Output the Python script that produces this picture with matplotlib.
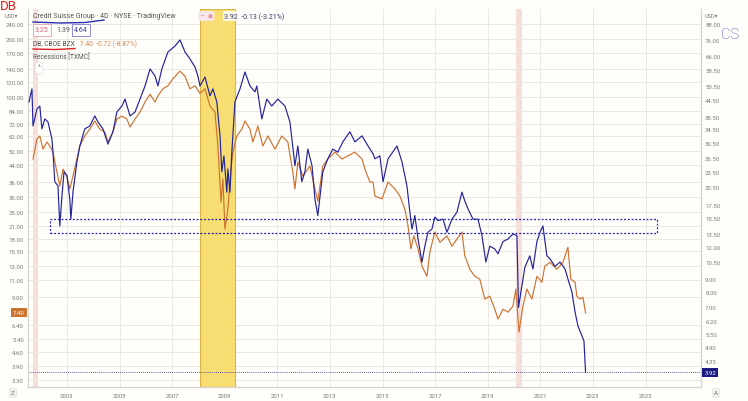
import matplotlib
matplotlib.use("Agg")
import matplotlib.pyplot as plt
import matplotlib.transforms as mtransforms
from matplotlib.patches import Rectangle

# ---------------- data ----------------
cs_years = [2001.56, 2001.67, 2001.71, 2001.86, 2001.97, 2002.05, 2002.16, 2002.28, 2002.43, 2002.47,
            2002.54, 2002.66, 2002.73, 2002.81, 2002.89, 2003.00, 2003.11, 2003.15, 2003.23, 2003.38,
            2003.49, 2003.68, 2003.87, 2004.06, 2004.18, 2004.37, 2004.56, 2004.75, 2004.90, 2005.09,
            2005.21, 2005.40, 2005.59, 2005.78, 2005.97, 2006.16, 2006.35, 2006.46, 2006.61, 2006.84,
            2007.11, 2007.30, 2007.49, 2007.68, 2007.87, 2007.98, 2008.06, 2008.25, 2008.44, 2008.55,
            2008.70, 2008.82, 2008.89, 2008.97, 2009.08, 2009.12, 2009.20, 2009.27, 2009.39, 2009.58,
            2009.77, 2009.96, 2010.15, 2010.22, 2010.41, 2010.60, 2010.79, 2011.02, 2011.29, 2011.48,
            2011.67, 2011.78, 2011.93, 2012.05, 2012.16, 2012.32, 2012.43, 2012.54, 2012.73, 2012.92,
            2013.11, 2013.30, 2013.49, 2013.76, 2013.95, 2014.22, 2014.45, 2014.64, 2014.71, 2014.90,
            2015.02, 2015.21, 2015.55, 2015.74, 2015.93, 2016.04, 2016.12, 2016.23, 2016.35, 2016.50,
            2016.61, 2016.73, 2016.88, 2016.99, 2017.11, 2017.30, 2017.45, 2017.64, 2017.83, 2018.02,
            2018.13, 2018.25, 2018.44, 2018.63, 2018.78, 2018.93, 2019.08, 2019.27, 2019.39, 2019.58,
            2019.77, 2019.96, 2020.11, 2020.17, 2020.30, 2020.41, 2020.60, 2020.72, 2020.87, 2020.99,
            2021.10, 2021.25, 2021.37, 2021.56, 2021.75, 2021.94, 2022.05, 2022.20, 2022.32, 2022.43,
            2022.58, 2022.66, 2022.72]
cs_close = [43.9, 49.3, 35.4, 41.2, 42.3, 34.5, 37.7, 36.7, 31.5, 28.0,
            21.5, 20.7, 14.5, 18.9, 23.5, 22.7, 18.4, 15.4, 19.6, 25.7,
            29.6, 34.5, 35.4, 38.7, 36.7, 34.5, 30.1, 33.6, 40.1, 42.3,
            45.0, 38.7, 40.1, 45.0, 50.6, 58.9, 55.3, 50.6, 58.9, 68.5,
            72.3, 76.3, 68.5, 64.4, 59.9, 55.3, 50.6, 54.8, 46.3, 49.3,
            43.9, 32.4, 23.5, 27.1, 19.6, 24.1, 19.6, 28.0, 43.9, 49.3,
            57.3, 50.6, 48.0, 50.6, 37.7, 45.0, 42.3, 45.0, 42.3, 36.7,
            24.8, 29.6, 21.5, 23.5, 28.8, 24.8, 18.4, 15.9, 23.5, 26.4,
            28.8, 28.0, 30.7, 33.6, 30.7, 32.4, 29.6, 27.6, 26.4, 27.1,
            21.5, 26.4, 29.6, 25.7, 20.7, 16.4, 14.1, 15.9, 12.9, 10.5,
            12.1, 13.7, 14.1, 15.7, 15.2, 15.4, 13.7, 15.4, 16.4, 19.6,
            18.1, 16.9, 15.4, 15.4, 13.3, 10.5, 12.1, 11.8, 11.3, 12.6,
            12.9, 13.5, 13.3, 7.0, 8.49, 10.0, 11.1, 9.87, 12.6, 13.7,
            14.5, 11.1, 10.8, 10.1, 10.5, 9.87, 9.03, 8.04, 6.73, 5.94,
            5.43, 5.19, 3.92]

db_years = [2001.71, 2001.86, 2001.97, 2002.09, 2002.24, 2002.35, 2002.47, 2002.62, 2002.73, 2002.85,
            2003.00, 2003.11, 2003.23, 2003.38, 2003.49, 2003.68, 2003.87, 2004.06, 2004.25, 2004.44,
            2004.56, 2004.75, 2004.90, 2005.09, 2005.28, 2005.40, 2005.59, 2005.78, 2005.97, 2006.16,
            2006.35, 2006.46, 2006.65, 2006.84, 2007.03, 2007.30, 2007.49, 2007.68, 2007.87, 2008.06,
            2008.25, 2008.44, 2008.63, 2008.74, 2008.86, 2008.93, 2009.01, 2009.12, 2009.24, 2009.31,
            2009.46, 2009.65, 2009.77, 2009.96, 2010.07, 2010.26, 2010.45, 2010.64, 2010.91, 2011.17,
            2011.40, 2011.59, 2011.67, 2011.78, 2011.97, 2012.24, 2012.43, 2012.54, 2012.73, 2012.92,
            2013.19, 2013.46, 2013.68, 2013.95, 2014.22, 2014.33, 2014.52, 2014.64, 2014.71, 2014.98,
            2015.21, 2015.47, 2015.66, 2015.85, 2015.97, 2016.08, 2016.19, 2016.35, 2016.50, 2016.69,
            2016.80, 2016.99, 2017.18, 2017.45, 2017.64, 2017.83, 2018.02, 2018.13, 2018.32, 2018.51,
            2018.70, 2018.89, 2019.08, 2019.27, 2019.39, 2019.58, 2019.77, 2019.96, 2020.07, 2020.19,
            2020.34, 2020.49, 2020.68, 2020.87, 2021.06, 2021.17, 2021.37, 2021.63, 2021.86, 2022.05,
            2022.16, 2022.32, 2022.39, 2022.51, 2022.62, 2022.72]
db_close = [47.2, 60.0, 62.3, 53.2, 57.9, 55.2, 51.3, 40.3, 34.1, 41.8,
            38.5, 32.9, 38.5, 47.2, 55.2, 62.3, 67.7, 74.6, 67.7, 65.4,
            57.9, 65.4, 76.4, 79.2, 76.4, 69.4, 76.4, 83.1, 93.8, 103.0,
            93.8, 101.0, 110.0, 114.0, 124.0, 136.0, 128.0, 110.0, 114.0, 104.0,
            110.0, 89.4, 83.1, 55.2, 28.1, 37.1, 20.3, 25.8, 41.8, 51.3,
            62.3, 67.7, 74.6, 67.7, 57.9, 70.2, 55.2, 62.3, 53.2, 62.3,
            57.9, 40.3, 32.9, 45.5, 38.5, 43.4, 32.9, 28.4, 43.4, 47.2,
            51.3, 47.2, 49.0, 51.3, 47.2, 41.8, 35.8, 35.8, 30.2, 29.2,
            35.8, 32.9, 30.2, 25.8, 21.1, 16.0, 18.7, 16.0, 13.0, 11.5,
            15.4, 19.6, 17.3, 18.7, 16.5, 18.0, 19.6, 14.7, 12.5, 11.5,
            11.1, 8.74, 9.05, 7.73, 6.87, 7.73, 7.46, 8.02, 9.86, 5.87,
            8.02, 9.86, 8.74, 11.5, 10.7, 13.0, 13.6, 12.5, 13.6, 16.3,
            11.1, 10.7, 9.05, 8.74, 8.94, 7.40]

db_ticks = [240, 200, 170, 140, 120, 100, 84, 72, 62, 52, 44, 36, 30, 25, 21, 18, 15.5, 13, 11, 9,
            6.4, 5.4, 4.6, 3.9, 3.3]
cs_ticks = [88, 76, 66, 58.5, 50.5, 44.5, 38.5, 34.5, 30.5, 26.5, 23.5, 20.5, 17.5, 15.5, 13.5, 12,
            10.5, 9, 8, 7, 6.2, 5.5, 4.9, 4.35]
year_ticks = [2003, 2005, 2007, 2009, 2011, 2013, 2015, 2017, 2019, 2021, 2023, 2025]

recessions = [(2001.70, 2001.90), (2020.08, 2020.30)]
highlight = (2008.06, 2009.39)
zone_db = (22.9, 19.4)          # dashed box range on DB scale
zone_years = (2002.35, 2025.43)

cs_last, db_last = 3.92, 7.40

# ---------------- style ----------------
plt.rcParams["font.family"] = ["Roboto", "DejaVu Sans"]
CS_COL = "#23239a"
DB_COL = "#cc7330"
GRID = "#ebe8e2"
LBL = "#7a7a7a"
BG = "#fffefb"

W, H = 748, 402
fig = plt.figure(figsize=(W / 100, H / 100), dpi=100, facecolor=BG)


def fx(x):
    return x / W


def fy(y):
    return 1 - y / H


L, R, T, B = 28, 701, 10, 388
ax = fig.add_axes([fx(L), fy(B), fx(R) - fx(L), fy(T) - fy(B)], facecolor=BG)
ax2 = ax.twinx()

for a in (ax, ax2):
    a.set_yscale("log")
    a.minorticks_off()
    for s in a.spines.values():
        s.set_color("#d6d3cd")
        s.set_linewidth(0.8)
    a.spines["top"].set_visible(False)

ax.set_xlim(2001.52, 2027.11)
ax.set_ylim(3.03, 287.5)
ax2.set_ylim(3.44, 100.6)

# background elements
for (a0, a1) in recessions:
    ax.axvspan(a0, a1, color="#f4d6d4", alpha=0.8, lw=0, zorder=0.5)
ax.axvspan(highlight[0], highlight[1], facecolor="#f8de72", edgecolor="#d6b64a", lw=0.8, zorder=0.6)

ax.set_yticks(db_ticks)
ax.set_yticklabels([f"{v:.2f}" for v in db_ticks])
ax2.set_yticks(cs_ticks)
ax2.set_yticklabels([f"{v:.2f}" for v in cs_ticks])
ax.set_xticks(year_ticks)
ax.set_xticklabels([str(y) for y in year_ticks])

ax.grid(True, color=GRID, lw=0.7, zorder=0.4)
ax.set_axisbelow(True)
for a in (ax, ax2):
    a.tick_params(axis="both", length=0, labelsize=4.3, colors=LBL, pad=3)
ax.tick_params(axis="x", pad=4)

# series
ax.plot(db_years, db_close, color=DB_COL, lw=0.85, zorder=3)
ax2.plot(cs_years, cs_close, color=CS_COL, lw=0.85, zorder=4)

# last-price dotted line for CS
ax2.axhline(cs_last, color=CS_COL, lw=0.6, ls=(0, (1, 1.5)), zorder=2)

# dashed zone rectangle
ax.add_patch(Rectangle((zone_years[0], zone_db[1]), zone_years[1] - zone_years[0],
                       zone_db[0] - zone_db[1], fill=False, ec="#1d1db0", lw=0.9,
                       ls=(0, (1.5, 1.5)), zorder=5))

# price tags
tr_l = mtransforms.blended_transform_factory(ax.transAxes, ax.transData)
tr_r = mtransforms.blended_transform_factory(ax2.transAxes, ax2.transData)
ax.text(-0.005, db_last, f"{db_last:.2f}", transform=tr_l, ha="right", va="center", fontsize=4.3,
        color="white", bbox=dict(boxstyle="square,pad=0.35", fc=DB_COL, ec="none"), clip_on=False)
ax2.text(1.005, cs_last, f"{cs_last:.2f}", transform=tr_r, ha="left", va="center", fontsize=4.3,
         color="white", bbox=dict(boxstyle="square,pad=0.35", fc="#1b1b80", ec="none"), clip_on=False)

# axis currency labels and corner buttons
fig.text(fx(5), fy(17), "USD\u25be", fontsize=4, color=LBL, va="center")
fig.text(fx(705), fy(16), "USD\u25be", fontsize=4, color=LBL, va="center")
fig.text(fx(13), fy(394), "Z", fontsize=4.5, color=LBL, ha="center", va="center",
         bbox=dict(boxstyle="round,pad=0.3", fc="#f1f0ee", ec="#dddddd", lw=0.4))
fig.text(fx(716), fy(394), "A", fontsize=4.5, color=LBL, ha="center", va="center",
         bbox=dict(boxstyle="round,pad=0.3", fc="#f1f0ee", ec="#dddddd", lw=0.4))

# legend block
fig.text(fx(33), fy(17), "Credit Suisse Group \u00b7 4D \u00b7 NYSE \u00b7 TradingView", fontsize=5.0,
         color="#555555", va="center")
fig.text(fx(200), fy(17), "\u2013  \u25aa", fontsize=5, color="#e08a98", va="center",
         bbox=dict(boxstyle="round,pad=0.2", fc="#f6e6ea", ec="none"))
fig.text(fx(224), fy(17), "3.92  -0.13 (-3.21%)", fontsize=5.0, color="#33336e", va="center",
         bbox=dict(boxstyle="square,pad=0.2", fc=BG, ec="none", alpha=0.85))
fig.text(fx(35), fy(31), "3.25", fontsize=5, color="#d06070", va="center",
         bbox=dict(boxstyle="square,pad=0.3", fc="white", ec="#e0a0a8", lw=0.6))
fig.text(fx(56), fy(31), "1.39", fontsize=5, color="#555555", va="center")
fig.text(fx(74), fy(31), "4.64", fontsize=5, color="#3a3ab0", va="center",
         bbox=dict(boxstyle="square,pad=0.3", fc="white", ec="#7a7ad0", lw=0.6))
fig.text(fx(33), fy(44), "DB, CBOE BZX", fontsize=4.8, color="#555555", va="center")
fig.text(fx(80), fy(44), "7.40  -0.72 (-8.87%)", fontsize=4.8, color="#d08a50", va="center")
fig.text(fx(33), fy(57), "Recessions [TXMC]", fontsize=4.8, color="#555555", va="center")
fig.text(fx(39), fy(69), "^", fontsize=5, color="#777777", ha="center", va="center",
         bbox=dict(boxstyle="round,pad=0.35", fc="white", ec="#dddddd", lw=0.5))

# hand-drawn marks
fig.add_artist(plt.Line2D([fx(33), fx(60), fx(85), fx(104)], [fy(23), fy(24), fy(23.5), fy(21)],
                          color="#2b2bb0", lw=1.0))
fig.add_artist(plt.Line2D([fx(33), fx(55), fx(75)], [fy(50), fy(50.5), fy(49.5)],
                          color="#dd2222", lw=1.0))
fig.text(fx(0), fy(6), "DB", fontsize=9.5, color="#dd2020", va="center", ha="left")
fig.text(fx(721), fy(35), "CS", fontsize=10.5, color="#3a4ac0", va="center", ha="left",
         fontweight="light")

fig.savefig("out.png", dpi=100, facecolor=BG)
